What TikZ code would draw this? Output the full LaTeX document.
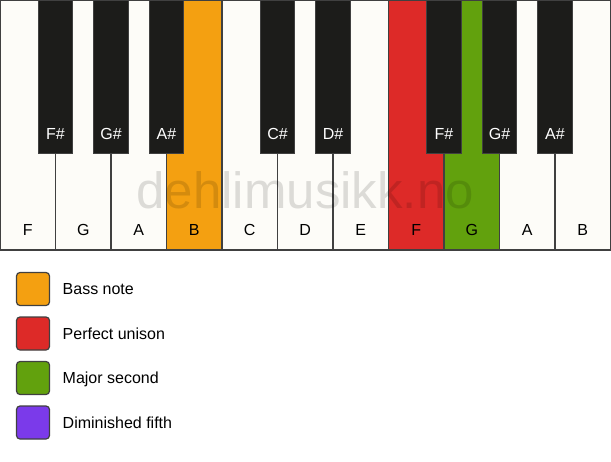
\documentclass[tikz,border=0pt]{standalone}
\usepackage{fontspec}
\setmainfont{Liberation Sans}
\usetikzlibrary{calc, positioning}
\definecolor{keywhite}{HTML}{FDFCF8}
\definecolor{keyblack}{HTML}{1C1C1A}
\definecolor{keyline}{HTML}{404040}
\definecolor{bassnote}{HTML}{F4A011}
\definecolor{unison}{HTML}{DD2A28}
\definecolor{second}{HTML}{62A10D}
\definecolor{fifth}{HTML}{7B3AEA}
\tikzset{
    keylabel/.style = {inner sep = 0em, font=\fontsize{16}{19}\selectfont},
    whitekey/.style = {draw=keyline, fill=keywhite, rectangle, line width=1.2pt, inner sep = 0em, outer sep = 0em,
      minimum width=55.5pt, minimum height=250pt,
      label={[keylabel, anchor=base, label distance=-15pt]south:#1}},
    blackkey/.style = {draw=keyline, fill=keyblack, rectangle, line width=1pt, inner sep = 0em, outer sep = 0em,
      anchor=north, minimum width=34.5pt, minimum height=153pt,
      label={[keylabel, text=white, anchor=base, label distance=-14pt]south:#1}},
    watermark/.style = {draw=none, inner sep = 0em, text=black, text opacity=0.13, font=\fontsize{51}{60}\selectfont},
    legendbox/.style = {draw=keyline, rectangle, rounded corners=0.35em, line width=1.2pt, inner sep = 0em,
      outer sep = 0em, minimum size=33pt},
    legendtext/.style = {draw=none, fill=none, rectangle, inner sep = 0em, text height=11.5pt, text depth=0pt,
      font=\fontsize{16}{19}\selectfont}
}
\begin{document}
\begin{tikzpicture}
\useasboundingbox (0,0) rectangle (611pt,-461pt);
% white keys
\node[whitekey=F, name=F1, anchor=north west] at (0,0) {};
\node[whitekey=G, name=G1, right=0em of F1] {};
\node[whitekey=A, name=A1, right=0em of G1] {};
\node[whitekey=B, name=B1, right=0em of A1, fill=bassnote] {};
\node[whitekey=C, name=C1, right=0em of B1] {};
\node[whitekey=D, name=D1, right=0em of C1] {};
\node[whitekey=E, name=E1, right=0em of D1] {};
\node[whitekey=F, name=F2, right=0em of E1, fill=unison] {};
\node[whitekey=G, name=G2, right=0em of F2, fill=second] {};
\node[whitekey=A, name=A2, right=0em of G2] {};
\node[whitekey=B, name=B2, right=0em of A2] {};
\node[watermark, name=mark, anchor=base] at ($(D1.south)+(0,42pt)$) {dehlimusikk.no};
% black keys
\node[blackkey=F\#, name=Fs1] at (F1.north east) {};
\node[blackkey=G\#, name=Gs1] at (G1.north east) {};
\node[blackkey=A\#, name=As1] at (A1.north east) {};
\node[blackkey=C\#, name=Cs1] at (C1.north east) {};
\node[blackkey=D\#, name=Ds1] at (D1.north east) {};
\node[blackkey=F\#, name=Fs2] at (F2.north east) {};
\node[blackkey=G\#, name=Gs2] at (G2.north east) {};
\node[blackkey=A\#, name=As2] at (A2.north east) {};
% legend
\node[legendbox, fill=bassnote, name=legbass, below right=22.5pt and 16.5pt of F1.south west] {};
\node[legendtext, name=txtbass, right=13pt of legbass] {Bass note};
\node[legendbox, fill=unison, name=legunison, below=11.5pt of legbass] {};
\node[legendtext, name=txtunison, right=13pt of legunison] {Perfect unison};
\node[legendbox, fill=second, name=legsecond, below=11.5pt of legunison] {};
\node[legendtext, name=txtsecond, right=13pt of legsecond] {Major second};
\node[legendbox, fill=fifth, name=legfifth, below=11.5pt of legsecond] {};
\node[legendtext, name=txtfifth, right=13pt of legfifth] {Diminished fifth};
\end{tikzpicture}
\end{document}
